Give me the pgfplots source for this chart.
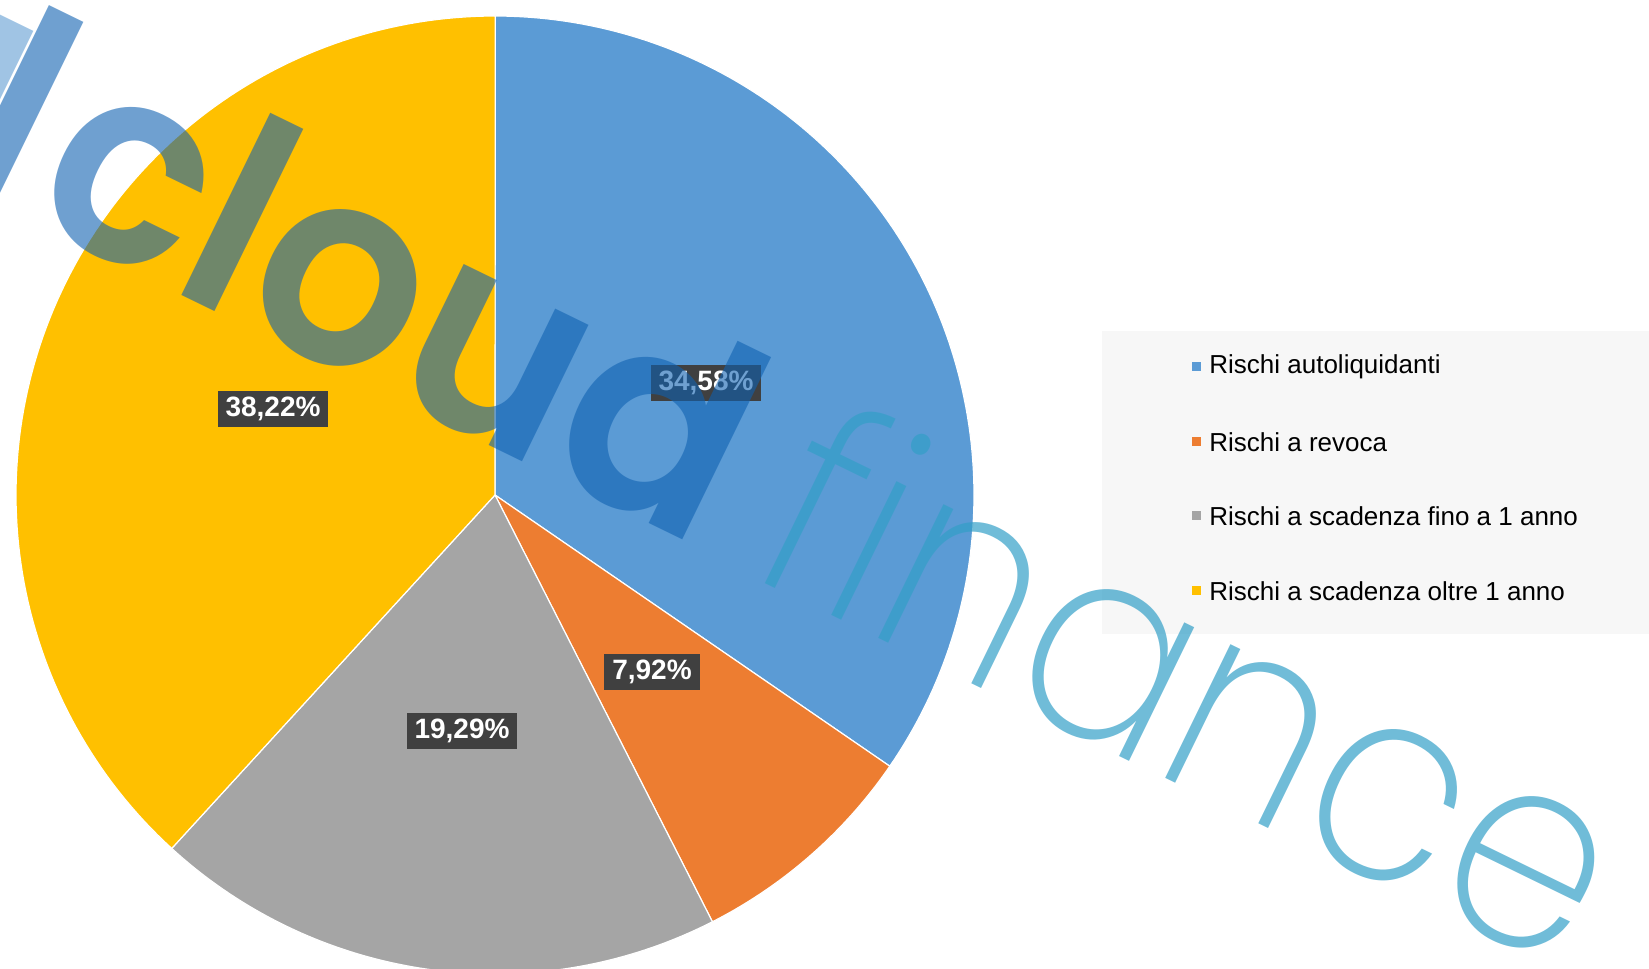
\documentclass[border=0pt]{standalone}
\usepackage{fontspec}
\setmainfont{Liberation Sans}
\newfontfamily\wmbold{Poppins SemiBold}
\newfontfamily\wmthin{Poppins ExtraLight}
\usepackage{pgfplots}
\pgfplotsset{compat=1.18}
\definecolor{pieblue}{HTML}{5B9BD5}
\definecolor{pieorange}{HTML}{ED7D31}
\definecolor{piegray}{HTML}{A5A5A5}
\definecolor{pieyellow}{HTML}{FFC000}
\definecolor{labbg}{HTML}{404040}
\definecolor{legbg}{HTML}{F7F7F7}
\definecolor{wmdark}{HTML}{0F61B1}
\definecolor{wmpale}{HTML}{619DD2}
\definecolor{wmlight}{HTML}{339FC7}
% data (percent)
\def\vA{34.58}\def\vB{7.92}\def\vC{19.29}\def\vD{38.22}
\pgfmathsetmacro\aA{90-3.6*\vA}
\pgfmathsetmacro\aB{\aA-3.6*\vB}
\pgfmathsetmacro\aC{\aB-3.6*\vC}
\pgfmathsetmacro\aD{\aC-3.6*\vD}
\def\cx{495}\def\cy{474}\def\rr{479}
\tikzset{
  labbox/.style={fill=labbg, text=white, font=\fontsize{14bp}{16bp}\selectfont\bfseries,
    inner xsep=4bp, inner ysep=0pt, minimum height=18bp},
  legtxt/.style={anchor=west, inner sep=0pt, font=\fontsize{13bp}{15bp}\selectfont}}
\begin{document}
\begin{tikzpicture}
\begin{axis}[scale only axis, width=824.5bp, height=484.5bp,
  xmin=0, xmax=1649, ymin=0, ymax=969, hide axis, clip=true]
\coordinate (SW) at (axis cs:0,0);
\coordinate (NE) at (axis cs:1649,969);
\addplot[fill=pieblue, draw=white, line width=0.6bp, domain=\aA:90, samples=120, variable=\t]
  ({\cx+\rr*cos(\t)},{\cy+\rr*sin(\t)}) -- (axis cs:\cx,\cy) -- cycle;
\addplot[fill=pieorange, draw=white, line width=0.6bp, domain=\aB:\aA, samples=40, variable=\t]
  ({\cx+\rr*cos(\t)},{\cy+\rr*sin(\t)}) -- (axis cs:\cx,\cy) -- cycle;
\addplot[fill=piegray, draw=white, line width=0.6bp, domain=\aC:\aB, samples=80, variable=\t]
  ({\cx+\rr*cos(\t)},{\cy+\rr*sin(\t)}) -- (axis cs:\cx,\cy) -- cycle;
\addplot[fill=pieyellow, draw=white, line width=0.6bp, domain=\aD:\aC, samples=120, variable=\t]
  ({\cx+\rr*cos(\t)},{\cy+\rr*sin(\t)}) -- (axis cs:\cx,\cy) -- cycle;
% data labels
\node[labbox] at (axis cs:706,586) {34,58\%};
\node[labbox] at (axis cs:273,560) {38,22\%};
\node[labbox] at (axis cs:652,297) {7,92\%};
\node[labbox] at (axis cs:462,238) {19,29\%};
% legend
\fill[legbg] (axis cs:1102,335) rectangle (axis cs:1649,638);
\fill[pieblue]   (axis cs:1192,598) rectangle (axis cs:1201,607);
\fill[pieorange] (axis cs:1192,523) rectangle (axis cs:1201,532);
\fill[piegray]   (axis cs:1192,449) rectangle (axis cs:1201,458);
\fill[pieyellow] (axis cs:1192,374) rectangle (axis cs:1201,383);
\node[legtxt] at (axis cs:1209,602) {Rischi autoliquidanti};
\node[legtxt] at (axis cs:1209,527) {Rischi a revoca};
\node[legtxt] at (axis cs:1209,453) {Rischi a scadenza fino a 1 anno};
\node[legtxt] at (axis cs:1209,378) {Rischi a scadenza oltre 1 anno};
% watermark
\node[anchor=base east, inner sep=0pt, rotate=-26, text=wmdark, text opacity=0.6,
  font=\wmbold\fontsize{137bp}{137bp}\selectfont] at (axis cs:699,421)
  {\textcolor{wmpale}{\raisebox{-15bp}{l}}\kern-17.5bp l\kern6bp\scalebox{0.96}[1]{cloud}};
\node[anchor=base west, inner sep=0pt, rotate=-26, text=wmlight, text opacity=0.7,
  font=\wmthin\fontsize{137bp}{137bp}\selectfont] at (axis cs:742,397) {\scalebox{0.9}[1]{finance}};
\end{axis}
\pgfresetboundingbox
\useasboundingbox (SW) rectangle (NE);
\end{tikzpicture}
\end{document}
